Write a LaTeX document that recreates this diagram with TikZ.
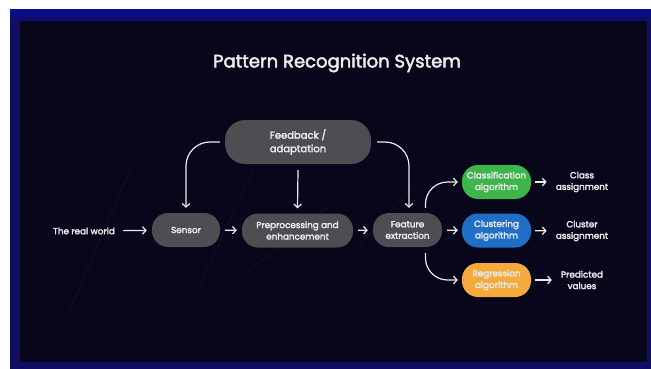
\documentclass[tikz,border=0pt]{standalone}
\usepackage{fontspec}
\setmainfont{Poppins}
\newfontfamily\popsb{Poppins}[FakeBold=2.6]
\usetikzlibrary{arrows.meta}
\definecolor{bgdark}{HTML}{07061A}
\definecolor{frameblue}{HTML}{100E62}
\definecolor{nodegray}{HTML}{4E4D52}
\definecolor{txt}{HTML}{ECECEE}
\definecolor{cgreen}{HTML}{3DB54A}
\definecolor{cblue}{HTML}{1F6FC6}
\definecolor{corange}{HTML}{F4AA3C}
\tikzset{
  box/.style={fill=nodegray, rounded corners=16pt, minimum height=34pt, inner sep=0pt,
    text=txt, font=\popsb\fontsize{8.8}{11.5}\selectfont, align=center},
  lbl/.style={text=txt, font=\popsb\fontsize{8.8}{11.5}\selectfont, align=center, inner sep=0pt},
  arr/.style={draw=txt, line width=1.2pt, -{Straight Barb[length=3.5pt,width=7.5pt]}},
  streak/.style={draw=violet!60!white, line width=1.5pt, opacity=0.06, line cap=round}
}
\begin{document}
\begin{tikzpicture}[x=1pt,y=-1pt]
\useasboundingbox (0,0) rectangle (651,369);
\fill[white] (0,0) rectangle (651,369);
\fill[frameblue] (10,10) rectangle (651,369);
\shade[top color=frameblue!70!blue, bottom color=frameblue] (10,10) rectangle (651,21);
\fill[bgdark] (20,21) rectangle (647,362);
% faint streaks
\draw[streak] (70,310) -- (130,170);
\draw[streak] (200,285) -- (255,165);
\draw[streak] (250,270) -- (330,205);
\draw[streak] (360,245) -- (410,190);
% title
\node[text=txt, font=\popsb\fontsize{18}{20}\selectfont] (title) at (337,63) {Pattern Recognition System};
% nodes
\node[box, minimum width=146pt, minimum height=44pt, rounded corners=20pt, font=\popsb\fontsize{10}{13.5}\selectfont] (fb) at (298,142) {Feedback /\\adaptation};
\node[lbl] (real) at (84,231) {The real world};
\node[box, minimum width=68pt] (sensor) at (186,230) {Sensor};
\node[box, minimum width=111pt] (pre) at (297.5,230.5) {Preprocessing and\\enhancement};
\node[box, minimum width=69pt] (feat) at (407.5,230) {Feature\\extraction};
\node[box, fill=cgreen, minimum width=69pt] (cls) at (496.5,182) {Classification\\algorithm};
\node[box, fill=cblue, minimum width=69pt] (clu) at (496.5,230.5) {Clustering\\algorithm};
\node[box, fill=corange, minimum width=69pt] (reg) at (496.5,280) {Regression\\algorithm};
\node[lbl] (clsout) at (582,182) {Class\\assignment};
\node[lbl] (cluout) at (582,231) {Cluster\\assignment};
\node[lbl] (regout) at (582,280) {Predicted\\values};
% connectors
\draw[arr, shorten <=8pt, shorten >=5pt] (real) -- (sensor);
\draw[arr, shorten <=5pt, shorten >=5pt] (sensor) -- (pre);
\draw[arr, shorten <=5pt, shorten >=5pt] (pre) -- (feat);
\draw[arr, shorten <=5pt, shorten >=4pt] (feat) -- (clu);
\draw[arr, shorten <=4pt, shorten >=9pt] (cls) -- (clsout);
\draw[arr, shorten <=4pt, shorten >=9pt] (clu) -- (cluout);
\draw[arr, shorten <=4pt, shorten >=9pt] (reg) -- (regout);
\draw[arr, rounded corners=24pt] ([xshift=-5pt]fb.west) -| ([yshift=5pt]sensor.north);
\draw[arr] ([yshift=-6pt]fb.south) -- ([yshift=5pt]pre.north);
\draw[arr, rounded corners=24pt] ([xshift=6pt]fb.east) -| ([xshift=1.5pt,yshift=5pt]feat.north);
\draw[arr, rounded corners=22pt] ([xshift=18pt,yshift=5pt]feat.north) |- ([xshift=-4pt]cls.west);
\draw[arr, rounded corners=22pt] ([xshift=18pt,yshift=-6pt]feat.south) |- ([xshift=-4pt]reg.west);
\end{tikzpicture}
\end{document}
